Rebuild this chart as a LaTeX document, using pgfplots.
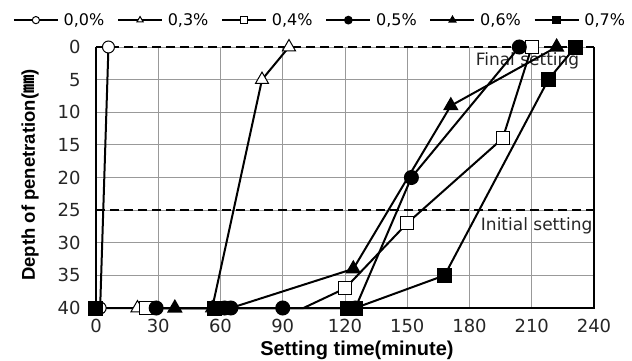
\documentclass[border=0pt]{standalone}
\usepackage{pgfplots}
\pgfplotsset{compat=1.18}
\usepackage{fontspec}
\setmainfont{DejaVu Sans}
\newfontfamily\lab{Liberation Sans}
\newfontfamily\cjk{Noto Sans CJK KR}
\begin{document}
\begin{tikzpicture}
\useasboundingbox (-96pt,-53pt) rectangle (536pt,308pt);
\begin{axis}[
  scale only axis, width=498pt, height=261pt,
  at={(0pt,0pt)}, anchor=south west,
  xmin=0, xmax=240, ymin=0, ymax=40, y dir=reverse,
  xtick={0,30,...,240}, ytick={0,5,...,40},
  grid=major, grid style={draw=black!40, line width=0.9pt},
  axis line style={draw=none},
  major tick length=0pt,
  clip=false,
  /pgf/number format/assume math mode=true,
  ticklabel style={font=\fontsize{18}{18}\selectfont, text=black!85},
  xticklabel style={yshift=-8pt},
  yticklabel style={xshift=-12pt},
  xlabel={Setting time(minute)},
  ylabel={Depth of penetration({\cjk ㎜})},
  xlabel style={at={(axis description cs:0.524,-0.161)}, anchor=center, font=\lab\bfseries\fontsize{20}{20}\selectfont},
  ylabel style={at={(axis description cs:-0.1325,0.51)}, anchor=center, font=\lab\bfseries\fontsize{18.5}{18.5}\selectfont},
  legend columns=6,
  legend style={at={(axis description cs:0.45,1.103)}, anchor=center, draw=none, fill=none,
    font=\fontsize{16}{16}\selectfont,
    /tikz/every even column/.append style={column sep=11pt},
    /tikz/every odd column/.append style={column sep=3pt},
    nodes={inner sep=2pt}},
  legend image code/.code={%
    \draw[#1, line width=1.5pt, mark indices={2}, mark size=3.6pt] plot coordinates {(0pt,0pt) (22pt,0pt) (44pt,0pt)};},
  every axis plot/.append style={black, line width=2pt},
]
% reference lines
\addplot[forget plot, black, line width=2.2pt, dash pattern=on 9pt off 5pt] coordinates {(0,0) (240,0)};
\addplot[forget plot, black, line width=2.2pt, dash pattern=on 9pt off 5pt] coordinates {(0,25) (240,25)};
\node[anchor=east, font=\fontsize{17}{17}\selectfont, text=black!85, inner sep=0pt] at (axis cs:233,2.15) {Final setting};
\node[anchor=east, font=\fontsize{17}{17}\selectfont, text=black!85, inner sep=0pt] at (axis cs:239.3,27.45) {Initial setting};
% frame
\draw[black, line width=1.3pt] (axis description cs:0,1) -- (axis description cs:0,0) -- (axis description cs:1,0) -- (axis description cs:1,1);
% series
\addplot[mark=*, mark size=6pt, mark options={fill=white, draw=black, line width=1pt, solid}]
  coordinates {(2,40) (6,0)};
\addlegendentry{0,0\%}
\addplot[mark=triangle*, mark size=7.5pt, mark options={fill=white, draw=black, line width=1pt, solid}]
  coordinates {(20,40) (56,40) (80,5) (93,0)};
\addlegendentry{0,3\%}
\addplot[mark=square*, mark size=6.5pt, mark indices={1,3,4,5,6}, mark options={fill=white, draw=black, line width=1pt, solid}]
  coordinates {(24,40) (100,40) (120,37) (150,27) (196,14) (210,0)};
\addlegendentry{0,4\%}
\addplot[mark=*, mark size=6.5pt, mark options={fill=black, draw=black, solid}]
  coordinates {(29,40) (62,40) (65,40) (90,40) (125,40) (152,20) (204,0)};
\addlegendentry{0,5\%}
\addplot[mark=triangle*, mark size=7pt, mark indices={1,3,4,5}, mark options={fill=black, draw=black, solid}]
  coordinates {(38,40) (65,40) (124,34) (171,9) (222,0)};
\addlegendentry{0,6\%}
\addplot[mark=square*, mark size=6.5pt, mark options={fill=black, draw=black, solid}]
  coordinates {(0,40) (57,40) (121,40) (125,40) (168,35) (218,5) (231,0)};
\addlegendentry{0,7\%}
\end{axis}
\end{tikzpicture}
\end{document}
